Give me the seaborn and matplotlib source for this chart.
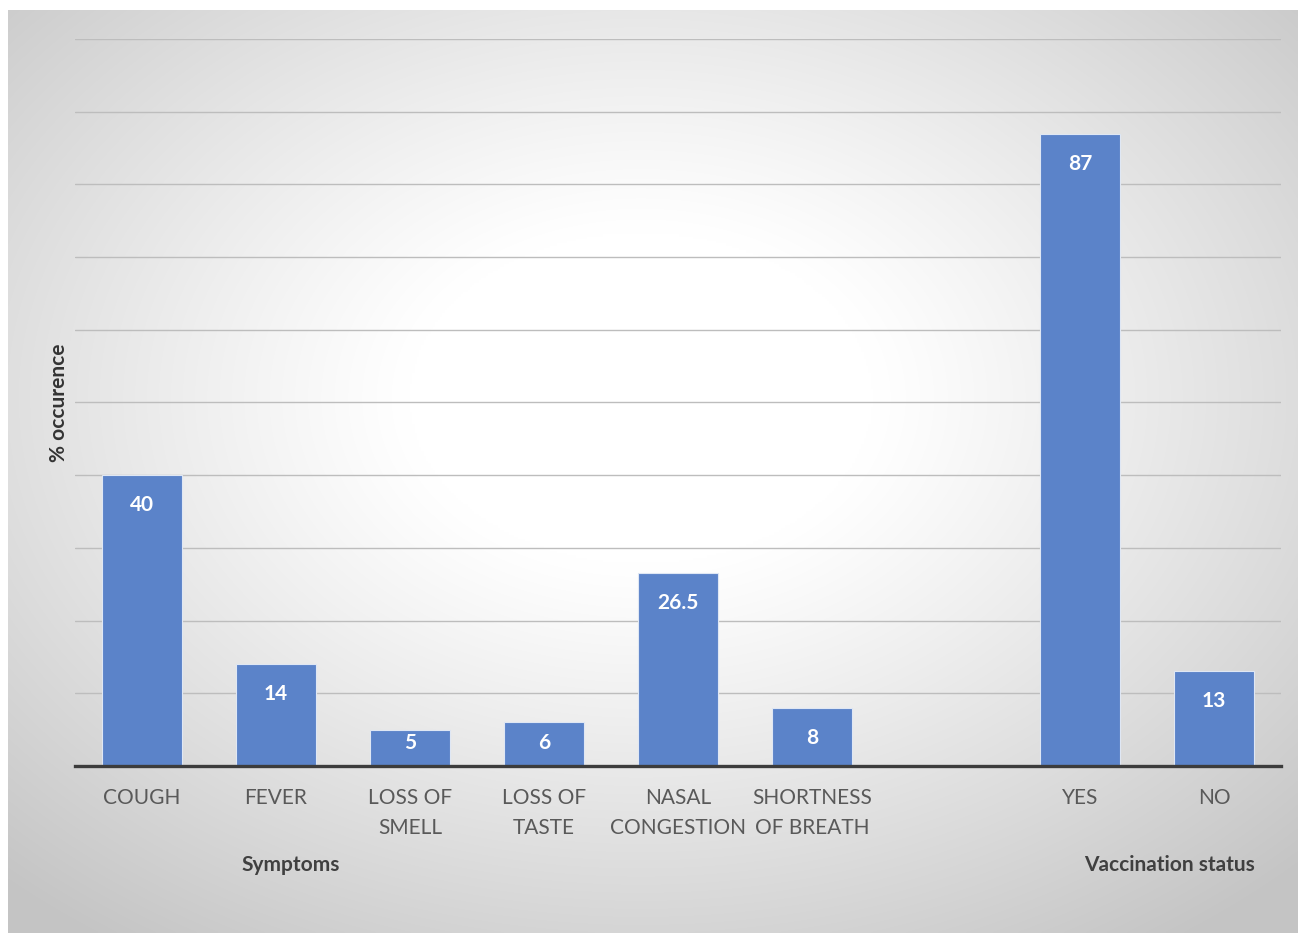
import numpy as np
import pandas as pd
import matplotlib
matplotlib.use("Agg")
import matplotlib.pyplot as plt
import seaborn as sns

# ---- data ----
categories = ["COUGH", "FEVER", "LOSS OF\nSMELL", "LOSS OF\nTASTE",
              "NASAL\nCONGESTION", "SHORTNESS\nOF BREATH", " ", "YES", "NO"]
values = [40, 14, 5, 6, 26.5, 8, np.nan, 87, 13]
value_labels = ["40", "14", "5", "6", "26.5", "8", "", "87", "13"]
group_labels = ["Symptoms", "Vaccination status"]
y_label = "% occurence"

sns.set_theme(style="white")
plt.rcParams['font.family'] = ['Lato', 'DejaVu Sans']

W, H = 1298, 935
fig = plt.figure(figsize=(W / 100, H / 100), dpi=100)
fig.patch.set_facecolor("white")

# radial gradient background (chart area)
bg = fig.add_axes([8 / W, 1 - 933 / H, (1298 - 8) / W, (933 - 10) / H])
bg.set_axis_off()
yy, xx = np.mgrid[0:400, 0:560]
cx, cy = 0.49 * 560, 0.42 * 400
r = np.sqrt(((xx - cx) / 560) ** 2 + ((yy - cy) / 400) ** 2)
r = np.clip(r / 0.72, 0, 1)
inner = np.array([1.0, 1.0, 1.0])
outer = np.array([0.77, 0.77, 0.77])
t = np.clip((r - 0.25) / 0.75, 0, 1) ** 1.1
img = inner[None, None, :] * (1 - t[..., None]) + outer[None, None, :] * t[..., None]
bg.imshow(img, aspect="auto", extent=[0, 1, 0, 1], interpolation="bilinear")
bg.set_xlim(0, 1); bg.set_ylim(0, 1)

ax = fig.add_axes([75 / W, 1 - 766 / H, (1281 - 75) / W, (766 - 39) / H])
ax.patch.set_alpha(0)

df = pd.DataFrame({"cat": categories, "val": values})
sns.barplot(data=df, x="cat", y="val", order=categories, color="#5B83C9",
            saturation=1, width=0.6, edgecolor="#dfe7f4", linewidth=0.8,
            ax=ax, zorder=3)

ax.set_xlim(-0.5, len(categories) - 0.5)
ax.set_ylim(0, 100)
ax.set_yticks(np.arange(0, 101, 10))
ax.set_yticklabels([])
ax.tick_params(axis="y", length=0)
ax.yaxis.grid(True, color="#bdbdbd", linewidth=1.0, zorder=0)
ax.set_axisbelow(True)
for s in ["top", "right", "left"]:
    ax.spines[s].set_visible(False)
ax.spines["bottom"].set_color("#3c3c3c")
ax.spines["bottom"].set_linewidth(2.4)
ax.spines["bottom"].set_zorder(5)

ax.set_xticks(range(len(categories)))
ax.set_xticklabels(categories, fontsize=15, color="#595959", linespacing=1.6,
                   va="top")
ax.tick_params(axis="x", length=0, pad=16)
ax.set_xlabel("")
ax.set_ylabel(y_label, fontsize=15, fontweight="bold", color="#333333",
              labelpad=0.5)

# data labels
px_per_unit = ax.transData.transform((0, 1))[1] - ax.transData.transform((0, 0))[1]
for i, (v, lab) in enumerate(zip(values, value_labels)):
    if not lab:
        continue
    h_px = v * px_per_unit
    off = min(30, h_px - 23)
    ax.annotate(lab, (i, v), xytext=(0, -off * 0.72), textcoords="offset points",
                ha="center", va="center", fontsize=15, fontweight="bold",
                color="white", zorder=6)

# group labels
fig.text(291 / W, 1 - 865 / H, group_labels[0], ha="center", va="center",
         fontsize=15, fontweight="bold", color="#404040")
fig.text(1169 / W, 1 - 865 / H, group_labels[1], ha="center", va="center",
         fontsize=15, fontweight="bold", color="#404040")

fig.savefig("out.png", dpi=100, facecolor="white")
